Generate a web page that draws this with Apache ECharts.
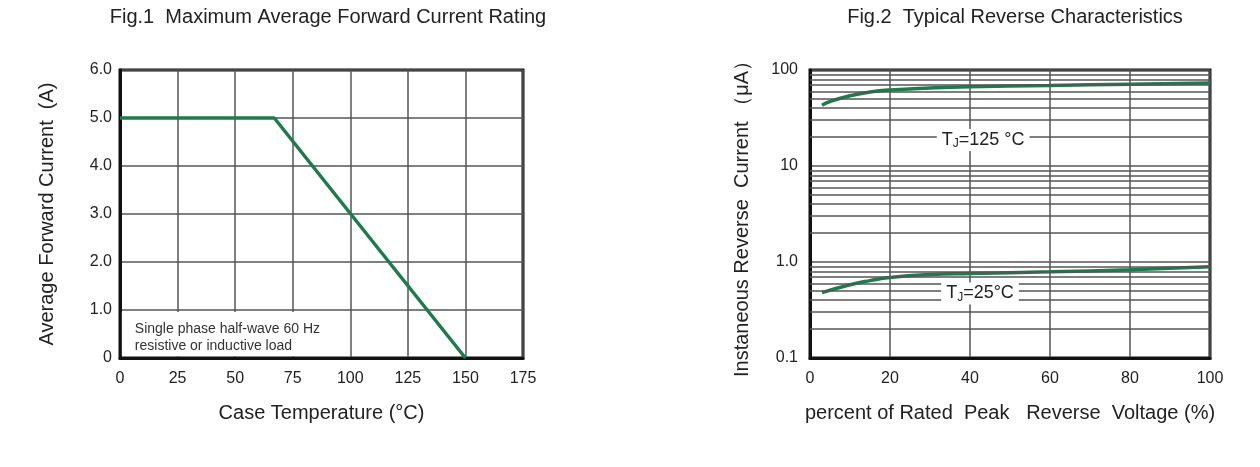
<!DOCTYPE html>
<html><head><meta charset="utf-8">
<script src="https://cdn.jsdelivr.net/npm/echarts@6/dist/echarts.min.js"></script>
<style>html,body{margin:0;padding:0;background:#fff}#c{width:1260px;height:467px}</style>
</head><body><div id="c"></div>
<script>
const fig1Title = 'Fig.1  Maximum Average Forward Current Rating';
const fig2Title = 'Fig.2  Typical Reverse Characteristics';
const fig1XName = 'Case Temperature (°C)';
const fig1YName = 'Average Forward Current  (A)';
const fig2XName = 'percent of Rated  Peak   Reverse  Voltage (%)';
const fig2YName = 'Instaneous Reverse  Current （μA）';
const fig1Note = ['Single phase half-wave 60 Hz', 'resistive or inductive load'];

// Fig.1 derating curve
const caseTemp = [0, 67, 150];
const forwardCurrent = [5, 5, 0];

// Fig.2 reverse characteristics
const pctVoltage125 = [3, 5, 10, 15, 20, 30, 40, 60, 80, 100];
const revCurrent125 = [43, 47, 54, 59, 62, 65, 67, 69, 71, 73];
const pctVoltage25 = [3, 10, 15, 20, 30, 40, 60, 80, 100];
const revCurrent25 = [0.48, 0.58, 0.64, 0.69, 0.74, 0.76, 0.79, 0.83, 0.89];
const label125 = ['J', '=125 °C'];
const label25 = ['J', '=25°C'];
const label125Pos = [43.3, 18.7];
const label25Pos = [42.5, 0.47];
const notePos = [[0.8, 0.04], [97, 0.96]];

// log-axis minor grid values
const minorGrid = [0.2,0.3,0.4,0.5,0.6,0.7,0.8,0.9,2,3,4,5,6,7,8,9,20,30,40,50,60,70,80,90];

const FONT = 'Liberation Sans, Arial, sans-serif';
const GRIDC = '#555';
const GREEN = '#1e7b4b';
const TXT = '#222';

const chart = echarts.init(document.getElementById('c'), null, {renderer: 'canvas'});

const annot = (sub, pos) => ({
  coord: pos, symbolSize: 0,
  label: {
    show: true, position: 'inside',
    formatter: '{t|T}{s|' + sub[0] + '}{t|' + sub[1] + '}',
    backgroundColor: '#fff', padding: [1, 5, 1, 5],
    rich: {
      t: {fontSize: 18, color: TXT, fontFamily: FONT, lineHeight: 20},
      s: {fontSize: 12, color: TXT, fontFamily: FONT, lineHeight: 20, padding: [8, 0, 0, 0]}
    }
  }
});

const nameStyle = {fontSize: 20, color: TXT, fontFamily: FONT};
const tickStyle = {fontSize: 16, color: TXT, fontFamily: FONT};

chart.setOption({
  animation: false,
  textStyle: {fontFamily: FONT},
  title: [
    {text: fig1Title, left: 323, top: 2, textAlign: 'center',
     textStyle: {fontSize: 20, fontWeight: 'normal', color: TXT, fontFamily: FONT}},
    {text: fig2Title, left: 1010, top: 2, textAlign: 'center',
     textStyle: {fontSize: 20, fontWeight: 'normal', color: TXT, fontFamily: FONT}}
  ],
  grid: [
    {left: 120, right: 737, top: 70, bottom: 109, show: true, borderColor: '#111', borderWidth: 3, containLabel: false},
    {left: 810, right: 50, top: 70, bottom: 109, show: true, borderColor: '#111', borderWidth: 3, containLabel: false}
  ],
  xAxis: [
    {gridIndex: 0, type: 'value', min: 0, max: 175, interval: 25,
     name: fig1XName, nameLocation: 'middle', nameGap: 45, nameTextStyle: nameStyle,
     axisLine: {show: true, lineStyle: {color: '#111', width: 3}},
     axisTick: {show: false},
     axisLabel: Object.assign({margin: 13}, tickStyle),
     splitLine: {show: true, lineStyle: {color: GRIDC, width: 1.5}}},
    {gridIndex: 1, type: 'value', min: 0, max: 100, interval: 20,
     name: fig2XName, nameLocation: 'middle', nameGap: 45, nameTextStyle: nameStyle,
     axisLine: {show: true, lineStyle: {color: '#111', width: 3}},
     axisTick: {show: false},
     axisLabel: Object.assign({margin: 13}, tickStyle),
     splitLine: {show: true, lineStyle: {color: GRIDC, width: 1.5}}}
  ],
  yAxis: [
    {gridIndex: 0, type: 'value', min: 0, max: 6, interval: 1,
     name: fig1YName, nameLocation: 'middle', nameGap: 63, nameTextStyle: nameStyle,
     axisLine: {show: true, lineStyle: {color: '#111', width: 3}},
     axisTick: {show: false},
     axisLabel: Object.assign({margin: 8, formatter: v => v === 0 ? '0' : v.toFixed(1)}, tickStyle),
     splitLine: {show: true, lineStyle: {color: GRIDC, width: 1.5}}},
    {gridIndex: 1, type: 'log', logBase: 10, min: 0.1, max: 100,
     name: fig2YName, nameLocation: 'middle', nameGap: 58, nameTextStyle: nameStyle,
     axisLine: {show: true, lineStyle: {color: '#111', width: 3}},
     axisTick: {show: false},
     axisLabel: Object.assign({margin: 12,
       formatter: v => v >= 10 ? String(Math.round(v)) : (v >= 1 ? v.toFixed(1) : String(v))}, tickStyle),
     splitLine: {show: true, lineStyle: {color: GRIDC, width: 1.5}}}
  ],
  series: [
    {type: 'line', xAxisIndex: 0, yAxisIndex: 0, z: 3,
     data: caseTemp.map((t, i) => [t, forwardCurrent[i]]),
     symbol: 'none', lineStyle: {color: GREEN, width: 3.5},
     markArea: {silent: true, itemStyle: {color: '#fff'},
       label: {show: true, position: 'insideLeft', distance: 13, offset: [0, 4],
         formatter: fig1Note.join('\n'), fontSize: 14, lineHeight: 17, color: '#333', fontFamily: FONT},
       data: [[{coord: notePos[0]}, {coord: notePos[1]}]]}},
    {type: 'line', xAxisIndex: 1, yAxisIndex: 1, z: 1, data: [],
     markLine: {silent: true, symbol: ['none', 'none'], label: {show: false},
       lineStyle: {color: GRIDC, width: 1.5, type: 'solid'},
       data: minorGrid.map(v => ({yAxis: v}))}},
    {type: 'line', xAxisIndex: 1, yAxisIndex: 1, z: 3, smooth: true,
     data: pctVoltage125.map((x, i) => [x, revCurrent125[i]]),
     symbol: 'none', lineStyle: {color: GREEN, width: 3.5},
     markPoint: {silent: true, data: [annot(label125, label125Pos)]}},
    {type: 'line', xAxisIndex: 1, yAxisIndex: 1, z: 3, smooth: true,
     data: pctVoltage25.map((x, i) => [x, revCurrent25[i]]),
     symbol: 'none', lineStyle: {color: GREEN, width: 3.5},
     markPoint: {silent: true, data: [annot(label25, label25Pos)]}}
  ]
});
</script>
</body></html>
